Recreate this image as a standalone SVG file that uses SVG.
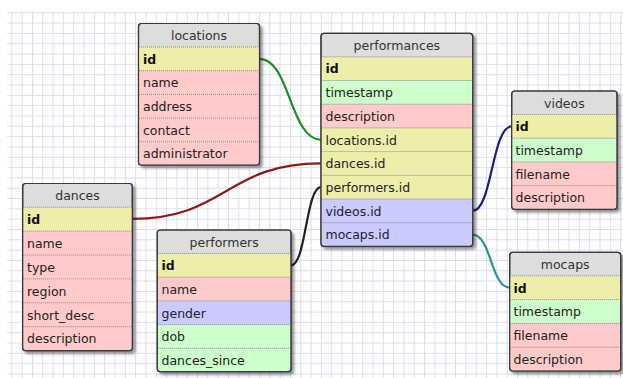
<svg xmlns="http://www.w3.org/2000/svg" width="623" height="378" viewBox="0 0 623 378">
<defs>
<pattern id="grid" x="11.3" y="12.3" width="10.32" height="10.32" patternUnits="userSpaceOnUse">
<path d="M0 0.5H10.32M0.5 0V10.32" fill="none" stroke="#dcdbf3" stroke-width="1"/>
</pattern>
<filter id="sh" x="-10%" y="-10%" width="125%" height="125%">
<feDropShadow dx="2.5" dy="2.5" stdDeviation="1.6" flood-color="#000" flood-opacity="0.45"/>
</filter>
</defs>
<style>
.box{fill:#dddddd;stroke:#3a3a3a;stroke-width:1.2}
.edge{fill:none;stroke:#3a3a3a;stroke-width:1.2}
.hd{fill:#dddddd}
.y{fill:#eeeeaa}
.p{fill:#ffcaca}
.g{fill:#ccffcc}
.b{fill:#cacaff}
.sep{stroke:#8a8a8a;stroke-width:1;stroke-dasharray:1 1}
text{font-family:"DejaVu Sans",Verdana,sans-serif;font-size:12.5px;fill:#222}
.t{text-anchor:middle;fill:#333}
.k{font-weight:bold;fill:#111}
.c{fill:none;stroke-width:2.2}
</style>
<rect x="7" y="12" width="616" height="366" fill="url(#grid)"/>

<g id="connectors">
<path class="c" stroke="#1e8c1e" d="M259.5 58.85C290 58.85 290 139.75 321 139.75"/>
<path class="c" stroke="#8b1c1c" d="M132.3 218.85C226 218.85 226 163.45 321 163.45"/>
<path class="c" stroke="#222" d="M291 265.35C306 265.35 306 187.15 321 187.15"/>
<path class="c" stroke="#1c1c8c" d="M472.7 210.85C492 210.85 492 126.35 511.7 126.35"/>
<path class="c" stroke="#2a9393" d="M472.7 234.55C491 234.55 491 287.65 509.7 287.65"/>
</g>

<g id="locations">
<rect class="box" filter="url(#sh)" x="138.5" y="23.5" width="121" height="141.5" rx="3"/>
<rect class="y" x="139" y="47" width="120" height="23.7"/>
<rect class="p" x="139" y="70.7" width="120" height="94"/>
<path class="sep" d="M139 47H259M139 70.7H259M139 94.4H259M139 118.1H259M139 141.8H259"/>
<rect class="edge" x="138.5" y="23.5" width="121" height="141.5" rx="3"/>
<text class="t" x="199" y="40">locations</text>
<text class="k" x="143" y="63.6">id</text>
<text x="143" y="87.3">name</text>
<text x="143" y="111">address</text>
<text x="143" y="134.7">contact</text>
<text x="143" y="158.4">administrator</text>
</g>

<g id="performances">
<rect class="box" filter="url(#sh)" x="321" y="33.3" width="151.7" height="213" rx="3"/>
<rect class="y" x="321.5" y="56.8" width="150.7" height="23.7"/>
<rect class="g" x="321.5" y="80.5" width="150.7" height="23.7"/>
<rect class="p" x="321.5" y="104.2" width="150.7" height="23.7"/>
<rect class="y" x="321.5" y="127.9" width="150.7" height="71.1"/>
<rect class="b" x="321.5" y="199" width="150.7" height="46.8"/>
<path class="sep" d="M321.5 56.8H472.2M321.5 80.5H472.2M321.5 104.2H472.2M321.5 127.9H472.2M321.5 151.6H472.2M321.5 175.3H472.2M321.5 199H472.2M321.5 222.7H472.2"/>
<rect class="edge" x="321" y="33.3" width="151.7" height="213" rx="3"/>
<text class="t" x="396.85" y="49.8">performances</text>
<text class="k" x="325.5" y="73.4">id</text>
<text x="325.5" y="97.1">timestamp</text>
<text x="325.5" y="120.8">description</text>
<text x="325.5" y="144.5">locations.id</text>
<text x="325.5" y="168.2">dances.id</text>
<text x="325.5" y="191.9">performers.id</text>
<text x="325.5" y="215.6">videos.id</text>
<text x="325.5" y="239.3">mocaps.id</text>
</g>

<g id="dances">
<rect class="box" filter="url(#sh)" x="22.7" y="183.5" width="109.6" height="167.2" rx="3"/>
<rect class="y" x="23.2" y="207.2" width="108.6" height="23.9"/>
<rect class="p" x="23.2" y="231.1" width="108.6" height="119.1"/>
<path class="sep" d="M23.2 207.2H131.8M23.2 231.1H131.8M23.2 255H131.8M23.2 278.9H131.8M23.2 302.8H131.8M23.2 326.7H131.8"/>
<rect class="edge" x="22.7" y="183.5" width="109.6" height="167.2" rx="3"/>
<text class="t" x="77.5" y="200">dances</text>
<text class="k" x="27" y="223.9">id</text>
<text x="27" y="247.8">name</text>
<text x="27" y="271.7">type</text>
<text x="27" y="295.6">region</text>
<text x="27" y="319.5">short_desc</text>
<text x="27" y="343.4">description</text>
</g>

<g id="performers">
<rect class="box" filter="url(#sh)" x="157.3" y="230" width="133.7" height="141.7" rx="3"/>
<rect class="y" x="157.8" y="253.5" width="132.7" height="23.7"/>
<rect class="p" x="157.8" y="277.2" width="132.7" height="23.7"/>
<rect class="b" x="157.8" y="300.9" width="132.7" height="23.7"/>
<rect class="g" x="157.8" y="324.6" width="132.7" height="46.6"/>
<path class="sep" d="M157.8 253.5H290.5M157.8 277.2H290.5M157.8 300.9H290.5M157.8 324.6H290.5M157.8 348.3H290.5"/>
<rect class="edge" x="157.3" y="230" width="133.7" height="141.7" rx="3"/>
<text class="t" x="224.15" y="246.5">performers</text>
<text class="k" x="161.5" y="270.1">id</text>
<text x="161.5" y="293.8">name</text>
<text x="161.5" y="317.5">gender</text>
<text x="161.5" y="341.2">dob</text>
<text x="161.5" y="364.9">dances_since</text>
</g>

<g id="videos">
<rect class="box" filter="url(#sh)" x="511.7" y="91" width="105.3" height="118.3" rx="3"/>
<rect class="y" x="512.2" y="114.5" width="104.3" height="23.7"/>
<rect class="g" x="512.2" y="138.2" width="104.3" height="23.7"/>
<rect class="p" x="512.2" y="161.9" width="104.3" height="46.9"/>
<path class="sep" d="M512.2 114.5H616.5M512.2 138.2H616.5M512.2 161.9H616.5M512.2 185.6H616.5"/>
<rect class="edge" x="511.7" y="91" width="105.3" height="118.3" rx="3"/>
<text class="t" x="564.35" y="107.5">videos</text>
<text class="k" x="515.5" y="131.1">id</text>
<text x="515.5" y="154.8">timestamp</text>
<text x="515.5" y="178.5">filename</text>
<text x="515.5" y="202.2">description</text>
</g>

<g id="mocaps">
<rect class="box" filter="url(#sh)" x="509.7" y="252.3" width="111" height="118.7" rx="3"/>
<rect class="y" x="510.2" y="275.8" width="110" height="23.8"/>
<rect class="g" x="510.2" y="299.6" width="110" height="23.8"/>
<rect class="p" x="510.2" y="323.4" width="110" height="47.1"/>
<path class="sep" d="M510.2 275.8H620.2M510.2 299.6H620.2M510.2 323.4H620.2M510.2 347.2H620.2"/>
<rect class="edge" x="509.7" y="252.3" width="111" height="118.7" rx="3"/>
<text class="t" x="565.2" y="268.8">mocaps</text>
<text class="k" x="513.5" y="292.5">id</text>
<text x="513.5" y="316.3">timestamp</text>
<text x="513.5" y="340.1">filename</text>
<text x="513.5" y="363.9">description</text>
</g>
</svg>
